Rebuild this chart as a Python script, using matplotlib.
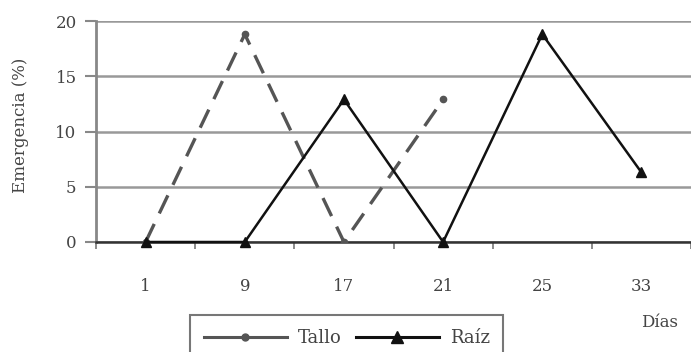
import numpy as np
import matplotlib.pyplot as plt
from matplotlib.lines import Line2D

dias = ["1", "9", "17", "21", "25", "33"]
tallo = [0, 18.8, 0, 12.9]
raiz = [0, 0, 12.9, 0, 18.8, 6.3]

plt.rcParams['font.family'] = ['DejaVu Serif']
txt = '#444444'

fig = plt.figure(figsize=(6.91, 3.52), dpi=100)
ax = fig.add_axes([0.139, 0.3125, 0.861, 0.6278])

x = np.arange(len(dias))
ax.plot(x[:len(tallo)], tallo, color='#555555', lw=2.4, ls=(0, (6, 3.5)),
        marker='o', markersize=4.5, zorder=3)
ax.plot(x, raiz, color='#111111', lw=1.8, marker='^', markersize=7, zorder=4,
        clip_on=False)

ax.set_xlim(-0.5, 5.38)
ax.set_ylim(0, 20)
ax.set_yticks([0, 5, 10, 15, 20])
ax.set_xticks(x)
ax.set_xticklabels(dias)
ax.set_xticks(np.arange(-0.5, 6, 1), minor=True)
ax.tick_params(axis='x', which='major', length=0, pad=26, labelsize=12, labelcolor=txt)
ax.tick_params(axis='x', which='minor', length=5, direction='out', color='#777777', width=1.2)
ax.tick_params(axis='y', length=8, direction='out', color='#888888', width=1.5,
               pad=6, labelsize=12, labelcolor=txt)
ax.grid(axis='y', color='#999999', lw=1.8)
ax.set_axisbelow(True)
for s in ['top', 'right']:
    ax.spines[s].set_visible(False)
ax.spines['left'].set_color('#888888')
ax.spines['left'].set_linewidth(2)
ax.spines['bottom'].set_color('#333333')
ax.spines['bottom'].set_linewidth(1.8)

fig.text(0.03, 0.645, "Emergencia (%)", rotation=90, ha='center', va='center',
         fontsize=12, color=txt)
fig.text(0.955, 0.083, "Días", ha='center', va='center', fontsize=12, color=txt)

handles = [Line2D([], [], color='#555555', lw=2.2, marker='o', markersize=5),
           Line2D([], [], color='#111111', lw=2.2, marker='^', markersize=8)]
leg = fig.legend(handles, ["Tallo", "Raíz"], loc='lower left',
                 bbox_to_anchor=(0.262, -0.05), ncol=2, frameon=True, fancybox=False,
                 edgecolor='#555555', fontsize=13, handlelength=4.6,
                 columnspacing=0.8, handletextpad=0.6, borderpad=0.75)
leg.get_frame().set_linewidth(1.5)
for t in leg.get_texts():
    t.set_color(txt)

fig.savefig("out.png", dpi=100)
